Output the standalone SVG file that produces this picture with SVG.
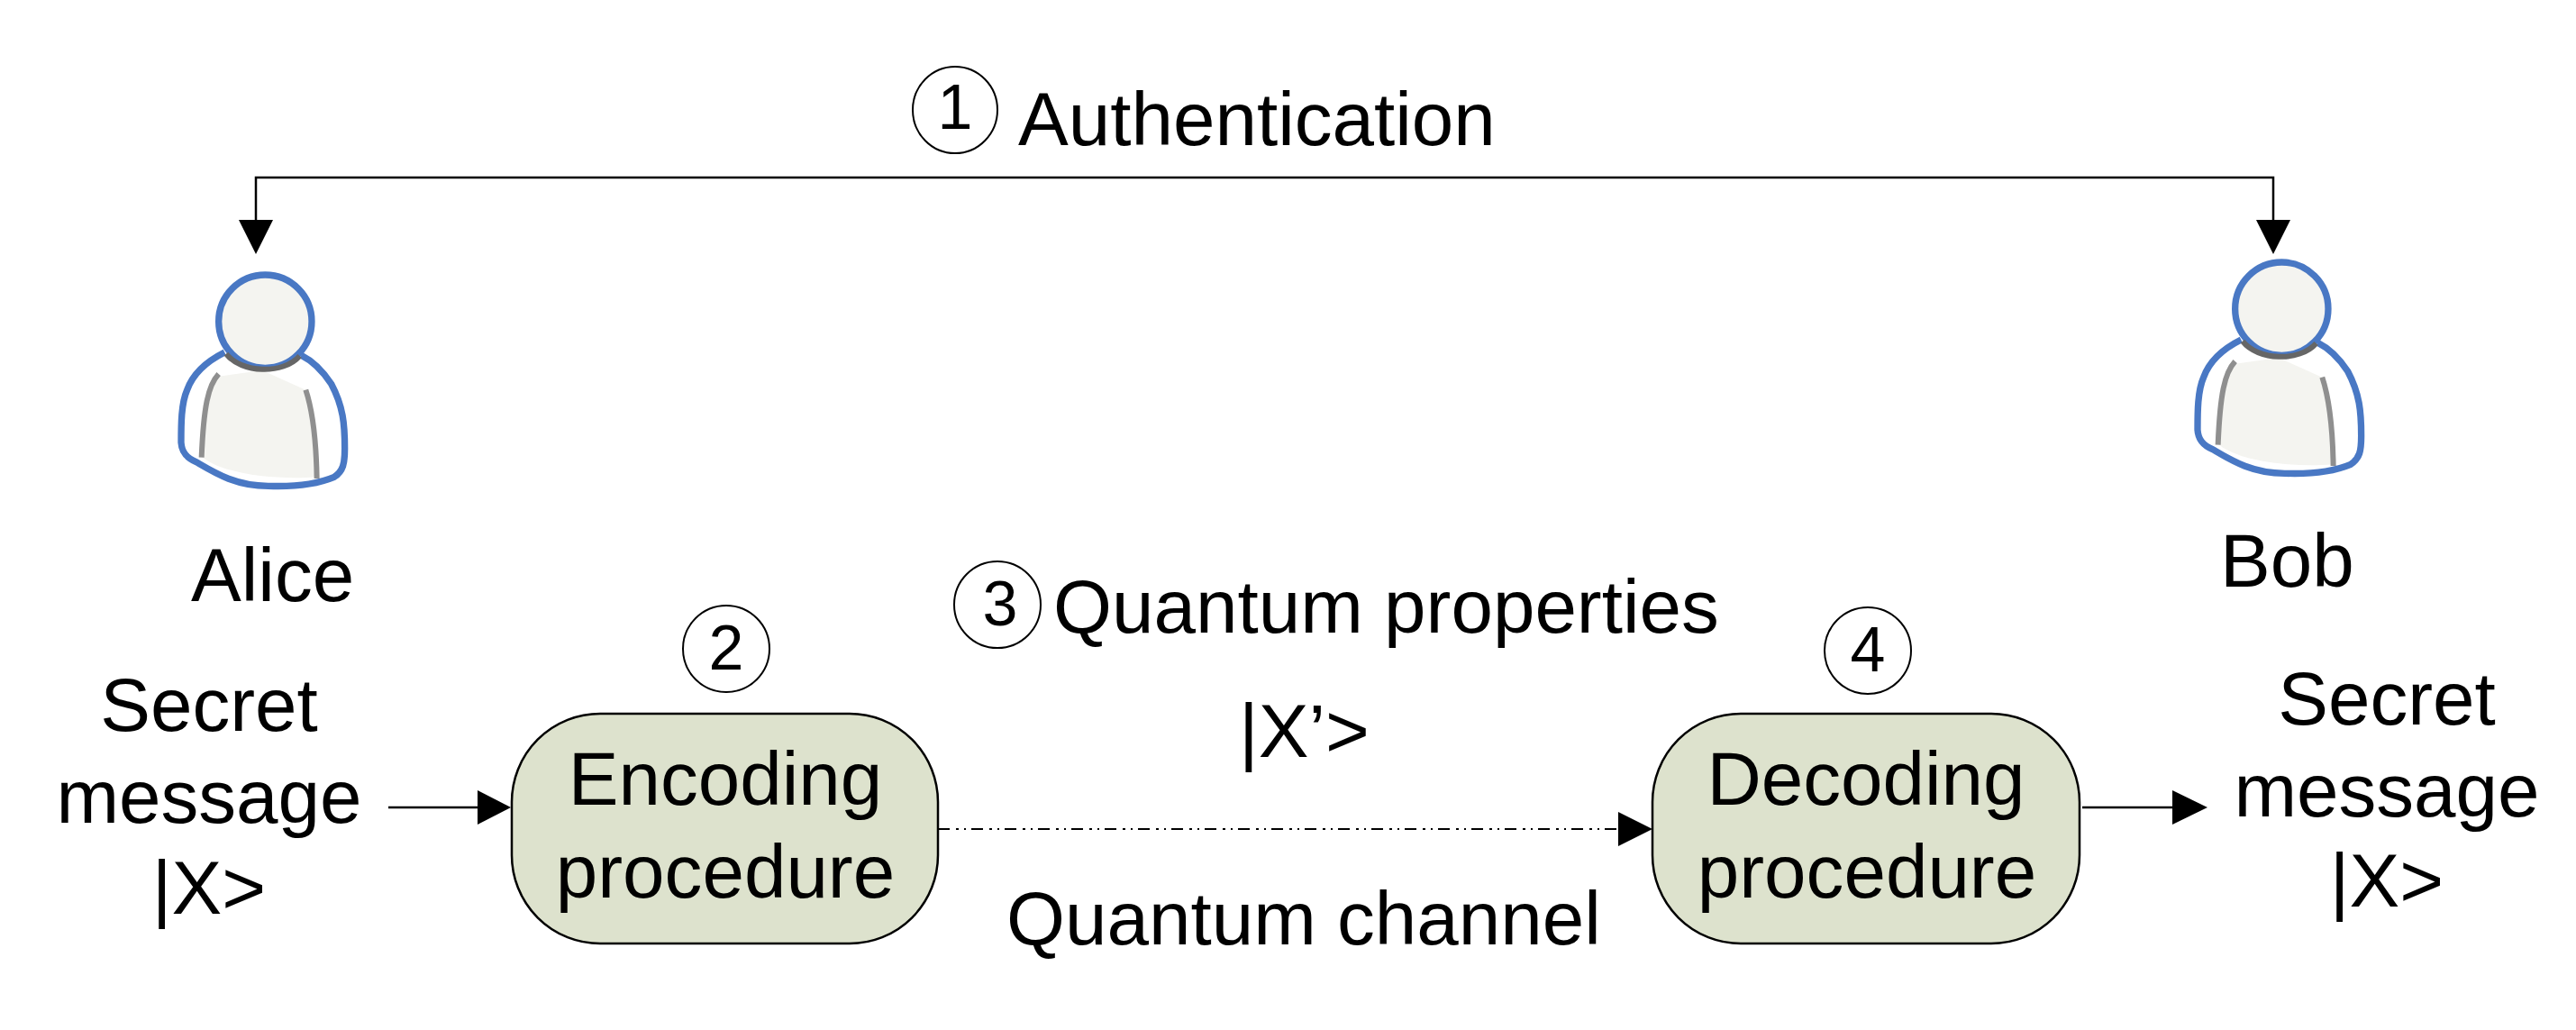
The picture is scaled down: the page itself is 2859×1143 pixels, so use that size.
<svg xmlns="http://www.w3.org/2000/svg" width="2859" height="1143" viewBox="0 0 2859 1143">
<style>
text{font-family:"Liberation Sans",Arial,sans-serif;font-size:83.6px;fill:#000}
.m{text-anchor:middle}
.c{fill:#fff;stroke:#000;stroke-width:2}
.n{font-size:70px;text-anchor:middle}
.box{fill:#dde2cd;stroke:#000;stroke-width:2.5}
.l{fill:none;stroke:#000;stroke-width:2.5}
.d{fill:none;stroke:#000;stroke-width:2;stroke-dasharray:13 7 3 6 2 6}
.h{fill:#000}
</style>
<defs>
<filter id="soft" x="-10%" y="-10%" width="120%" height="120%"><feGaussianBlur stdDeviation="0.7"/></filter>
<g id="person" transform="scale(0.3333)" filter="url(#soft)">
<path d="M295 420C235 450 190 490 170 545C150 590 150 660 150 720C152 750 165 770 200 785C260 820 330 865 440 865C520 868 600 860 660 835C690 815 695 790 695 740C695 660 690 600 650 525C620 480 590 450 550 430Z" fill="#fff"/>
<path d="M275 500C240 540 225 610 222 770C300 830 480 845 600 835C600 700 590 620 565 545L420 480Z" fill="#f4f4f0"/>
<path d="M295 420C235 450 190 490 170 545C150 590 150 660 150 720C152 750 165 770 200 785C260 820 330 865 440 865C520 868 600 860 660 835C690 815 695 790 695 740C695 660 690 600 650 525C620 480 590 450 550 430" fill="none" stroke="#4a78c4" stroke-width="22"/>
<path d="M275 492C240 530 225 600 218 770M565 545C590 620 600 720 602 840" fill="none" stroke="#8f8f8f" stroke-width="18"/>
<circle cx="430" cy="317" r="155" fill="#f4f4f0" stroke="#4a78c4" stroke-width="22"/>
<path d="M300 425C350 490 490 495 545 432" fill="none" stroke="#666" stroke-width="18"/>
</g>
</defs>
<g id="connectors">
<path class="l" d="M284 246V197H2523V246"/>
<path class="h" d="M265 244H303L284 282ZM2504 244H2542L2523 282Z"/>
<path class="l" d="M431 896H532"/>
<path class="h" d="M530 877L567 896L530 915Z"/>
<path class="d" d="M1041 920H1794"/>
<path class="h" d="M1796 901L1834 920L1796 939Z"/>
<path class="l" d="M2311 896H2415"/>
<path class="h" d="M2411 877L2450 896L2411 915Z"/>
</g>
<g id="auth"><ellipse class="c" cx="1060" cy="122" rx="47" ry="48"/><text class="n" x="1060" y="143">1</text><text x="1130" y="161">Authentication</text></g>
<g id="alice"><use href="#person" transform="translate(151 251)"/><text x="212" y="667">Alice</text></g>
<g id="bob"><use href="#person" transform="translate(2389 237)"/><text x="2464" y="651">Bob</text></g>
<g id="secret-in"><text class="m" x="232" y="811">Secret</text><text class="m" x="232" y="913">message</text><text class="m" x="232" y="1014">|X&gt;</text></g>
<g id="secret-out"><text class="m" x="2649" y="804">Secret</text><text class="m" x="2649" y="906">message</text><text class="m" x="2649" y="1006">|X&gt;</text></g>
<g id="encoding"><rect class="box" x="568" y="792" width="473" height="255" rx="98" ry="98"/><text class="m" x="805" y="893">Encoding</text><text class="m" x="805" y="996">procedure</text><ellipse class="c" cx="806" cy="720" rx="48" ry="48"/><text class="n" x="806" y="743">2</text></g>
<g id="decoding"><rect class="box" x="1834" y="792" width="474" height="255" rx="98" ry="98"/><text class="m" x="2071" y="893">Decoding</text><text class="m" x="2072" y="996">procedure</text><ellipse class="c" cx="2073" cy="722" rx="48" ry="48"/><text class="n" x="2073" y="745">4</text></g>
<g id="channel"><ellipse class="c" cx="1107" cy="671" rx="48" ry="48"/><text class="n" x="1110" y="694">3</text><text x="1169" y="702">Quantum properties</text><text x="1375" y="840">|X’&gt;</text><text x="1117" y="1048">Quantum channel</text></g>
</svg>
